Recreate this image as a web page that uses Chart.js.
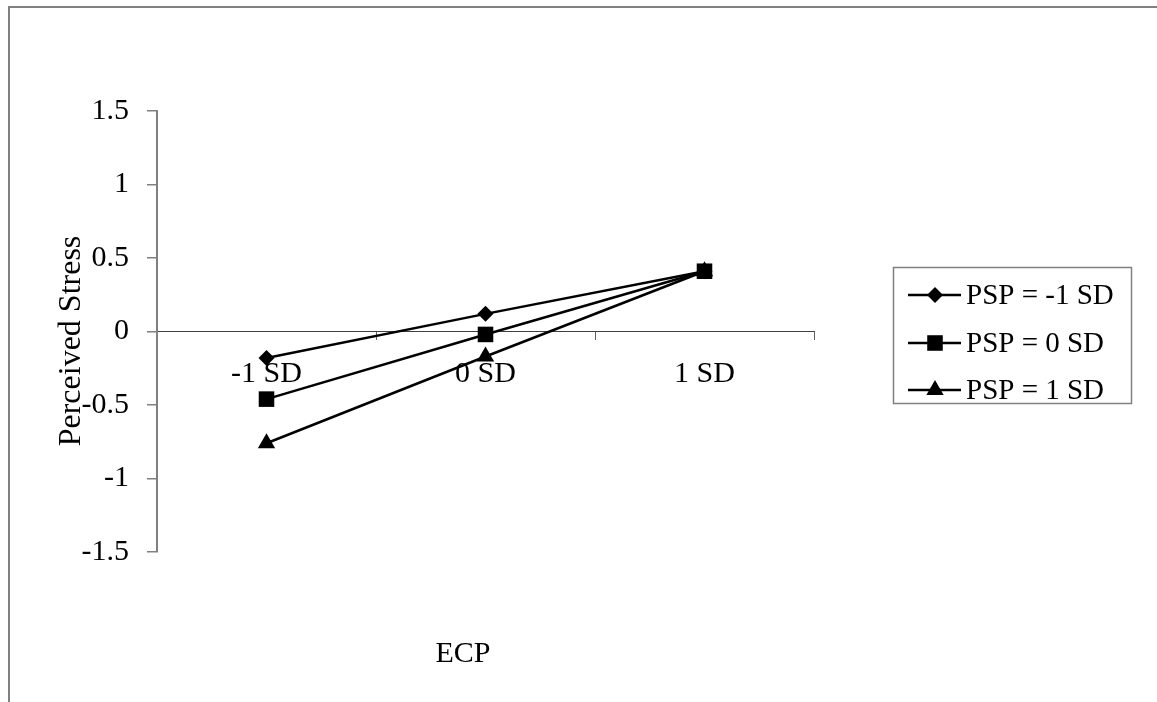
<!DOCTYPE html>
<html>
<head>
<meta charset="utf-8">
<title>Perceived Stress by ECP</title>
<script src="https://cdn.jsdelivr.net/npm/chart.js"></script>
<style>
  html, body { margin: 0; padding: 0; background: #fff; }
  canvas { display: block; }
</style>
</head>
<body>
<canvas id="myChart" width="1157" height="702"></canvas>
<script>
// categories on the x axis (ECP)
const categories = ["-1 SD", "0 SD", "1 SD"];
// one series per PSP level
const seriesNames = ["PSP = -1 SD", "PSP = 0 SD", "PSP = 1 SD"];
const pspMinus1 = [-0.18, 0.12, 0.41];
const psp0 = [-0.46, -0.02, 0.41];
const psp1 = [-0.76, -0.17, 0.41];
// y ticks
const yTicks = [-1.5, -1, -0.5, 0, 0.5, 1, 1.5];
const yTickLabels = ["-1.5", "-1", "-0.5", "0", "0.5", "1", "1.5"];

const police = '"Liberation Serif", "Times New Roman", serif';

const styles = [
    { pointStyle: 'rectRot', radius: 8 },
    { pointStyle: 'rect', radius: 11 },
    { pointStyle: 'triangle', radius: 10 }
];

function serie(label, data, st) {
    return {
        label: label,
        data: data,
        borderColor: '#000',
        backgroundColor: '#000',
        borderWidth: 2.5,
        pointStyle: st.pointStyle,
        pointRadius: st.radius,
        pointBorderWidth: 0,
        pointBackgroundColor: '#000',
        tension: 0
    };
}

// cadre, titres et légende dessinés à la main (style Excel)
const decor = {
    id: 'decor',
    afterDraw(chart) {
        const ctx = chart.ctx;
        ctx.save();
        // cadre
        ctx.strokeStyle = '#808080';
        ctx.lineWidth = 2;
        ctx.beginPath();
        ctx.moveTo(9, 702);
        ctx.lineTo(9, 7);
        ctx.lineTo(1157, 7);
        ctx.stroke();

        // titres des axes
        ctx.fillStyle = '#000';
        ctx.font = '30px ' + police;
        ctx.textAlign = 'center';
        ctx.textBaseline = 'middle';
        ctx.fillText('ECP', 463, 654);
        ctx.save();
        ctx.translate(72, 341);
        ctx.rotate(-Math.PI / 2);
        ctx.font = '32px ' + police;
        ctx.fillText('Perceived Stress', 0, 0);
        ctx.restore();

        // légende
        ctx.strokeStyle = '#808080';
        ctx.lineWidth = 1.5;
        ctx.strokeRect(893.5, 267.5, 238, 136);
        const rows = [295, 343, 390];
        ctx.font = '29px ' + police;
        ctx.textAlign = 'left';
        chart.data.datasets.forEach((ds, i) => {
            const y = rows[i];
            ctx.strokeStyle = '#000';
            ctx.lineWidth = 2.5;
            ctx.beginPath();
            ctx.moveTo(908, y);
            ctx.lineTo(961, y);
            ctx.stroke();
            ctx.fillStyle = '#000';
            Chart.helpers.drawPoint(ctx, {
                pointStyle: ds.pointStyle,
                radius: ds.pointRadius,
                rotation: 0,
                borderWidth: 0
            }, 935, y);
            ctx.fillStyle = '#000';
            ctx.fillText(ds.label, 966, y + 1);
        });
        ctx.restore();
    }
};

const ctx = document.getElementById('myChart').getContext('2d');
const myChart = new Chart(ctx, {
    type: 'line',
    data: {
        labels: categories,
        datasets: [
            serie(seriesNames[0], pspMinus1, styles[0]),
            serie(seriesNames[1], psp0, styles[1]),
            serie(seriesNames[2], psp1, styles[2])
        ]
    },
    options: {
        responsive: false,
        animation: false,
        devicePixelRatio: 1,
        layout: { padding: { left: 0, top: 111, right: 343, bottom: 150 } },
        plugins: {
            legend: { display: false },
            tooltip: { enabled: false }
        },
        scales: {
            x: {
                type: 'category',
                position: { y: 0 },
                offset: true,
                grid: {
                    offset: true,
                    drawOnChartArea: false,
                    drawTicks: true,
                    tickLength: 8,
                    color: '#606060',
                    lineWidth: 1
                },
                border: { color: '#404040', width: 1 },
                ticks: {
                    color: '#000',
                    font: { family: police, size: 30 },
                    padding: 17,
                    maxRotation: 0,
                    autoSkip: false
                }
            },
            y: {
                min: -1.5,
                max: 1.5,
                afterBuildTicks(scale) {
                    scale.ticks = yTicks.map(v => ({ value: v }));
                },
                afterFit(scale) {
                    scale.width = 157;
                },
                grid: {
                    drawOnChartArea: false,
                    drawTicks: true,
                    tickLength: 10,
                    color: '#808080',
                    lineWidth: 1.5
                },
                border: { color: '#808080', width: 2 },
                ticks: {
                    color: '#000',
                    font: { family: police, size: 30 },
                    padding: 18,
                    callback: (v) => {
                        const i = yTicks.indexOf(v);
                        return i >= 0 ? yTickLabels[i] : '';
                    }
                }
            }
        }
    },
    plugins: [decor]
});
</script>
</body>
</html>
